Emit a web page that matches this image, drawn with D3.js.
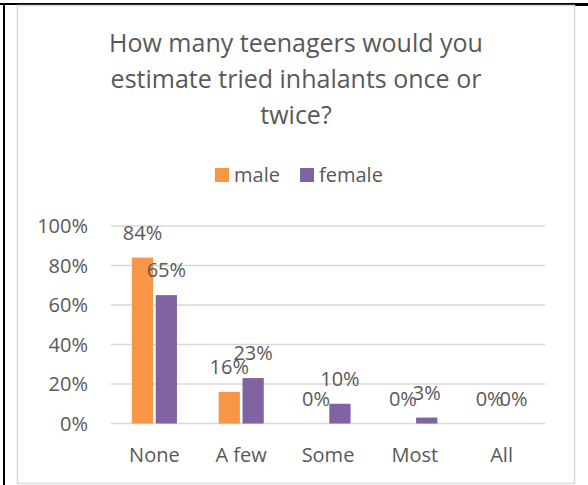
<!DOCTYPE html>
<html>
<head>
<meta charset="utf-8">
<script src="https://cdn.jsdelivr.net/npm/d3@7"></script>
<style>
  html, body { margin: 0; padding: 0; background: #fff; }
  svg { display: block; }
  text { font-family: "Open Sans", sans-serif; fill: #595959; }
</style>
</head>
<body>
<svg id="chart" width="588" height="485"></svg>
<script>
const titleLines = ["How many teenagers would you", "estimate tried inhalants once or", "twice?"];
const categories = ["None", "A few", "Some", "Most", "All"];
const seriesNames = ["male", "female"];
const maleValues = [0.84, 0.16, 0, 0, 0];
const femaleValues = [0.65, 0.23, 0.10, 0.03, 0];
const yTicks = [0, 0.2, 0.4, 0.6, 0.8, 1.0];
const colors = ["#F79646", "#8064A2"];

const svg = d3.select("#chart");

// outer table-like black frame
svg.append("line").attr("x1", 0).attr("x2", 588).attr("y1", 4).attr("y2", 4)
  .attr("stroke", "#000").attr("stroke-width", 2);
svg.append("line").attr("x1", 575).attr("x2", 588).attr("y1", 4.5).attr("y2", 4.5)
  .attr("stroke", "#000").attr("stroke-width", 3);
svg.append("line").attr("x1", 4).attr("x2", 4).attr("y1", 3).attr("y2", 485)
  .attr("stroke", "#000").attr("stroke-width", 2);

// chart area border
svg.append("rect").attr("x", 17.5).attr("y", 5.5).attr("width", 557).attr("height", 478)
  .attr("fill", "#fff").attr("stroke", "#D9D9D9").attr("stroke-width", 1.5);

// title
const title = svg.append("text").attr("text-anchor", "middle").style("font-size", "25px");
titleLines.forEach((t, i) => {
  title.append("tspan").attr("x", 296).attr("y", 52 + i * 36).text(t);
});

// legend
const legendX = [215, 300];
seriesNames.forEach((s, i) => {
  svg.append("rect").attr("x", legendX[i]).attr("y", 168).attr("width", 14).attr("height", 14)
    .attr("fill", colors[i]);
  svg.append("text").attr("x", legendX[i] + 19).attr("y", 182).style("font-size", "20px").text(s);
});

// scales
const x = d3.scaleBand().domain(categories).range([111, 545]).paddingInner(0.48).paddingOuter(0.24);
const xs = d3.scaleBand().domain(seriesNames).range([0, x.bandwidth()]).paddingInner(0.11);
const y = d3.scaleLinear().domain([0, 1]).range([423.5, 226]);

// gridlines
svg.append("g").selectAll("line").data(yTicks).join("line")
  .attr("x1", 111).attr("x2", 545)
  .attr("y1", d => y(d)).attr("y2", d => y(d))
  .attr("stroke", "#D9D9D9").attr("stroke-width", 1.5);

// y axis labels
svg.append("g").selectAll("text").data(yTicks).join("text")
  .attr("x", 88).attr("y", d => y(d)).attr("dy", "0.36em")
  .attr("text-anchor", "end").style("font-size", "20px")
  .text(d => d3.format(".0%")(d));

// bars
const rows = categories.map((c, i) => ({ cat: c, vals: [maleValues[i], femaleValues[i]] }));
const groups = svg.append("g").selectAll("g").data(rows).join("g")
  .attr("transform", d => `translate(${x(d.cat)},0)`);
groups.selectAll("rect").data(d => d.vals.map((v, i) => ({ s: seriesNames[i], v, i })))
  .join("rect")
  .attr("x", d => xs(d.s)).attr("width", xs.bandwidth())
  .attr("y", d => y(d.v)).attr("height", d => y(0) - y(d.v))
  .attr("fill", d => colors[d.i]);

// data labels
groups.selectAll("text").data(d => d.vals.map((v, i) => ({ s: seriesNames[i], v, i })))
  .join("text")
  .attr("x", d => xs(d.s) + xs.bandwidth() / 2)
  .attr("y", d => y(d.v) - 18)
  .attr("text-anchor", "middle").style("font-size", "20px")
  .text(d => d3.format(".0%")(d.v));

// category labels
svg.append("g").selectAll("text").data(categories).join("text")
  .attr("x", d => x(d) + x.bandwidth() / 2).attr("y", 462)
  .attr("text-anchor", "middle").style("font-size", "20px")
  .text(d => d);
</script>
</body>
</html>
